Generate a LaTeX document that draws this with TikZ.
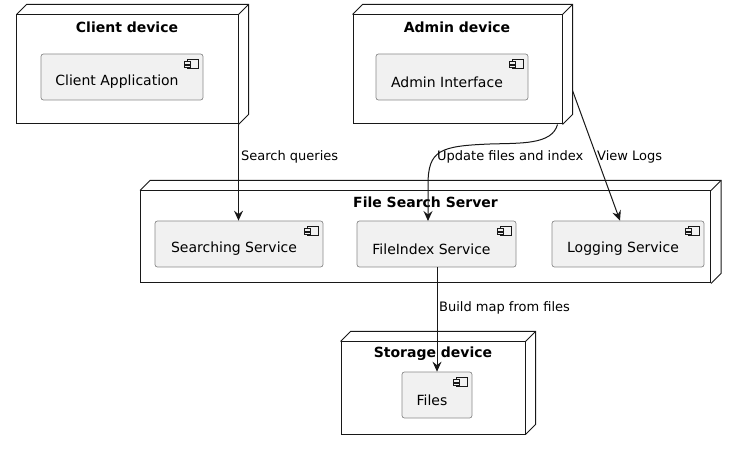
\documentclass[tikz,border=0pt]{standalone}
\usepackage{fontspec}
\setmainfont{DejaVu Sans}
\usetikzlibrary{arrows.meta,calc}
\definecolor{compfill}{HTML}{F1F1F1}
\definecolor{compline}{HTML}{8A8A8A}
\definecolor{ink}{HTML}{181818}
\tikzset{
  devbox/.style={draw=ink, line width=1bp, fill=white, inner sep=0pt},
  devline/.style={draw=ink, line width=1bp},
  devtitle/.style={font=\fontsize{14bp}{16bp}\selectfont\bfseries, inner sep=0pt, text=black},
  compbox/.style={draw=compline, line width=0.7bp, fill=compfill, rounded corners=2.5bp, inner sep=0pt},
  comptext/.style={font=\fontsize{14bp}{16bp}\selectfont, inner sep=0pt, text=black},
  conn/.style={draw=ink, line width=1bp, -{Stealth[length=10bp,width=9bp,inset=3.5bp]}},
  connlabel/.style={font=\fontsize{13bp}{15bp}\selectfont, inner sep=0pt, anchor=west, text=black},
}
\newcommand\threed[1]{%
  \draw[devline] (#1.north west) -- ++(10bp,10bp) -| ($(#1.south east)+(10bp,10bp)$) -- (#1.south east);
  \draw[devline] (#1.north east) -- ++(10bp,10bp);}
\newcommand\compicon[1]{%
  \draw[draw=ink, line width=0.6bp, fill=compfill] ($(#1.north east)+(-16bp,-6bp)$) rectangle ($(#1.north east)+(-5bp,-15bp)$);
  \draw[draw=ink, line width=0.6bp, fill=compfill] ($(#1.north east)+(-19bp,-8bp)$) rectangle ($(#1.north east)+(-13.5bp,-10.3bp)$);
  \draw[draw=ink, line width=0.6bp, fill=compfill] ($(#1.north east)+(-19bp,-11.2bp)$) rectangle ($(#1.north east)+(-13.5bp,-13.5bp)$);}
\begin{document}
\begin{tikzpicture}[x=1bp,y=-1bp]
\useasboundingbox[fill=white] (0,0) rectangle (736,450);

% devices
\node[devbox, minimum width=221bp, minimum height=109bp] (client) at (127.5,69.5) {};
\threed{client}
\node[devtitle] (clientT) at (127,27) {Client device};

\node[devbox, minimum width=209bp, minimum height=109bp] (admin) at (457.5,69.5) {};
\threed{admin}
\node[devtitle] (adminT) at (457,27) {Admin device};

\node[devbox, minimum width=570bp, minimum height=92bp] (server) at (425.5,237) {};
\threed{server}
\node[devtitle] (serverT) at (425.5,202) {File Search Server};

\node[devbox, minimum width=184bp, minimum height=92bp] (storage) at (433,388) {};
\threed{storage}
\node[devtitle] (storageT) at (433,354) {Storage device};

% components
\node[compbox, minimum width=162bp, minimum height=46bp] (capp) at (122,77) {};
\compicon{capp}
\node[comptext] (cappT) at (117,82) {Client Application};

\node[compbox, minimum width=152bp, minimum height=46bp] (aint) at (452,77) {};
\compicon{aint}
\node[comptext] (aintT) at (447,82) {Admin Interface};

\node[compbox, minimum width=168bp, minimum height=46bp] (search) at (239,244) {};
\compicon{search}
\node[comptext] (searchT) at (234,249) {Searching Service};

\node[compbox, minimum width=159bp, minimum height=46bp] (findex) at (436.5,244) {};
\compicon{findex}
\node[comptext] (findexT) at (431.5,249) {FileIndex Service};

\node[compbox, minimum width=152bp, minimum height=46bp] (logsvc) at (628,244) {};
\compicon{logsvc}
\node[comptext] (logsvcT) at (623,249) {Logging Service};

\node[compbox, minimum width=70bp, minimum height=46bp] (files) at (437,395) {};
\compicon{files}
\node[comptext] (filesT) at (432,400) {Files};

% connectors
\draw[conn] (client.south east) -- (client.south east |- search.north);
\draw[conn] ($(admin.south east)+(-5bp,0)$) .. controls (552,145) and (520,143) .. (490,144)
   .. controls (440,146) and (428,150) .. (428,185) -- (428,221);
\draw[conn] ($(admin.south east)+(10bp,34bp)$) -- ($(logsvc.north)+(-8bp,0)$);
\draw[conn] (findex.south |- findex.south) ++(0.5bp,0) coordinate (fb) -- (fb |- files.north);

% labels
\node[connlabel] (l1) at (241,157) {Search queries};
\node[connlabel] (l2) at (437,157) {Update files and index};
\node[connlabel] (l3) at (597,157) {View Logs};
\node[connlabel] (l4) at (439,308) {Build map from files};
\end{tikzpicture}
\end{document}
